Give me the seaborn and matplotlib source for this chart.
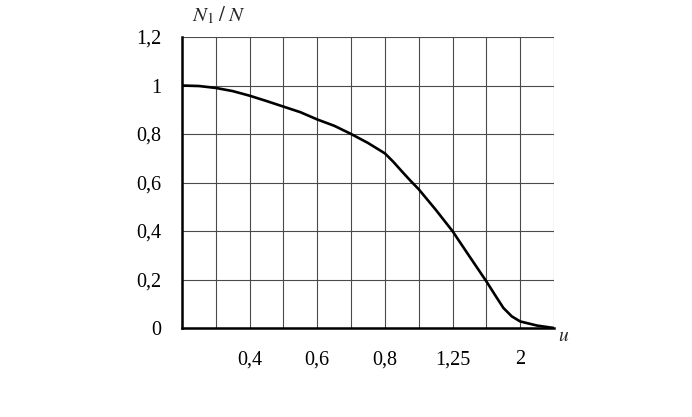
import numpy as np
import pandas as pd
import matplotlib.pyplot as plt
import seaborn as sns

positions = [0, 0.5, 1, 1.5, 2, 2.5, 3, 3.5, 4, 4.5, 5, 5.5,
             6, 6.25, 6.5, 6.75, 7, 7.5, 8, 8.5, 9, 9.25, 9.5, 9.75,
             10, 10.5, 11]
ratio = [1.0, 0.998, 0.99, 0.977, 0.958, 0.936, 0.913, 0.89, 0.86, 0.834, 0.80, 0.763,
         0.72, 0.685, 0.646, 0.608, 0.572, 0.488, 0.399, 0.295, 0.192, 0.137, 0.083, 0.048,
         0.027, 0.01, 0.0]
grid_pos = [0, 1, 2, 3, 4, 5, 6, 7, 8, 9, 10, 11]
tick_pos = [2, 4, 6, 8, 10]
tick_labels = ['0,4', '0,6', '0,8', '1,25', '2']
y_ticks = [0, 0.2, 0.4, 0.6, 0.8, 1.0, 1.2]
y_labels = ['0', '0,2', '0,4', '0,6', '0,8', '1', '1,2']

sns.set_style('white')
plt.rcParams['font.family'] = ['Liberation Serif', 'DejaVu Serif']

df = pd.DataFrame({'u': positions, 'n': ratio})

fig = plt.figure(figsize=(6.92, 4.17), dpi=100)
ax = fig.add_axes([0.263, 0.2134, 0.5377, 0.6978])

sns.lineplot(data=df, x='u', y='n', ax=ax, color='black', linewidth=1.9)

ax.set_xlim(0, 11)
ax.set_ylim(0, 1.2)
ax.set_xticks(grid_pos, minor=True)
ax.set_xticks(tick_pos)
ax.set_xticklabels(tick_labels)
ax.set_yticks(y_ticks)
ax.set_yticklabels(y_labels)
ax.grid(True, which='both', color='#4a4a4a', linewidth=0.8)
ax.tick_params(axis='both', which='both', direction='inout', length=6, width=1.2,
               labelsize=14.5, colors='black')
ax.tick_params(axis='x', which='major', pad=13)
ax.tick_params(axis='y', which='major', pad=12)
for side in ['top', 'right']:
    ax.spines[side].set_visible(False)
for side in ['left', 'bottom']:
    ax.spines[side].set_linewidth(1.8)
    ax.spines[side].set_color('black')
ax.set_xlabel('')
ax.set_ylabel('')

ax.text(0.027, 1.245, r'$N_{\mathrm{1}}\;/\;N$', transform=ax.get_yaxis_transform(),
        fontsize=15, ha='left', va='bottom', math_fontfamily='stix')
ax.text(1.01, -0.03, r'$u$', transform=ax.transAxes, fontsize=14, ha='left', va='center',
        math_fontfamily='stix')

fig.savefig('out.png', dpi=100)
